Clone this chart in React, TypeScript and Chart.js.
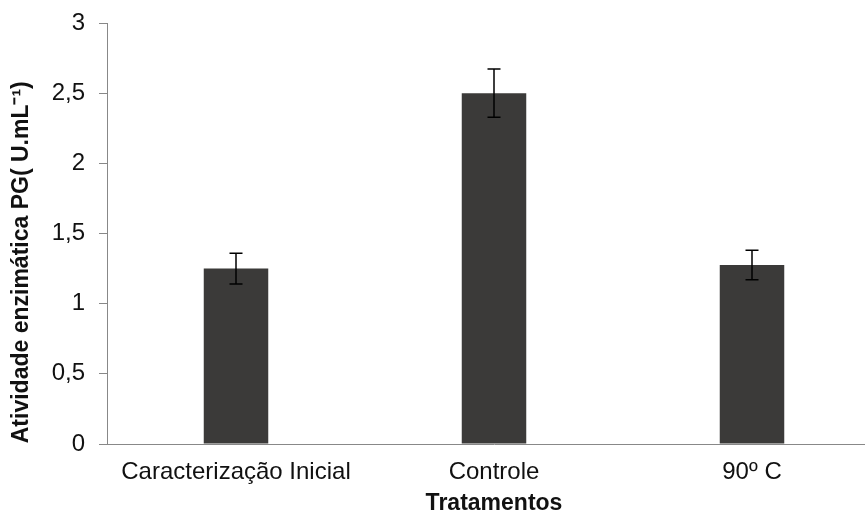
import React, { useEffect, useRef } from "react";
import { Chart, registerables } from "chart.js";

Chart.register(...registerables);

const categories = ["Caracterização Inicial", "Controle", "90º C"];
const values = [1.25, 2.5, 1.275];
const errors = [0.11, 0.172, 0.105];
const yTicks = [0, 0.5, 1, 1.5, 2, 2.5, 3];

const errorBarPlugin = {
  id: "errorBars",
  afterDatasetsDraw(chart: any) {
    const ctx = chart.ctx;
    const meta = chart.getDatasetMeta(0);
    const y = chart.scales.y;
    ctx.save();
    ctx.strokeStyle = "#000";
    ctx.lineWidth = 1.5;
    meta.data.forEach((bar: any, i: number) => {
      const x = bar.x;
      const top = y.getPixelForValue(values[i] + errors[i]);
      const bot = y.getPixelForValue(values[i] - errors[i]);
      ctx.beginPath();
      ctx.moveTo(x, top);
      ctx.lineTo(x, bot);
      ctx.moveTo(x - 6.5, top);
      ctx.lineTo(x + 6.5, top);
      ctx.moveTo(x - 6.5, bot);
      ctx.lineTo(x + 6.5, bot);
      ctx.stroke();
    });
    ctx.restore();
  },
};

export default function App() {
  const ref = useRef<HTMLCanvasElement>(null);
  useEffect(() => {
    if (!ref.current) return;
    const chart = new Chart(ref.current, {
      type: "bar",
      data: {
        labels: categories,
        datasets: [
          {
            data: values,
            backgroundColor: "#3b3a39",
            borderWidth: 0,
            categoryPercentage: 1,
            barPercentage: 0.25,
          },
        ],
      },
      options: {
        animation: false,
        responsive: false,
        maintainAspectRatio: false,
        layout: { padding: { top: 23, right: 0, bottom: 0, left: 0 } },
        plugins: { legend: { display: false }, tooltip: { enabled: false } },
        scales: {
          x: {
            grid: { display: false },
            border: { display: true, color: "#888", width: 1 },
            ticks: {
              color: "#111",
              font: { family: "Liberation Sans", size: 24 },
              padding: 6,
              maxRotation: 0,
              autoSkip: false,
            },
            title: {
              display: true,
              text: "Tratamentos",
              color: "#111",
              font: { family: "Liberation Sans", size: 23, weight: "bold" },
              padding: { top: -2, bottom: -2 },
            },
            afterFit(scale: any) {
              scale.height = 71;
              scale.paddingLeft = 0;
              scale.paddingRight = 0;
            },
          },
          y: {
            min: 0,
            max: 3,
            afterBuildTicks(scale: any) {
              scale.ticks = yTicks.map((v) => ({ value: v }));
            },
            grid: {
              drawOnChartArea: false,
              drawTicks: true,
              tickLength: 8,
              color: "#888",
            },
            border: { display: true, color: "#888", width: 1 },
            ticks: {
              color: "#111",
              font: { family: "Liberation Sans", size: 24 },
              padding: 14,
              callback: (v: any) => String(v).replace(".", ","),
            },
            title: {
              display: true,
              text: "Atividade enzimática PG( U.mL⁻¹)         ",
              color: "#111",
              font: { family: "Liberation Sans", size: 23, weight: "bold" },
              padding: { top: 8, bottom: 0 },
            },
            afterFit(scale: any) {
              scale.width = 107;
              scale.paddingTop = 0;
              scale.paddingBottom = 0;
            },
          },
        },
      },
      plugins: [errorBarPlugin],
    } as any);
    return () => chart.destroy();
  }, []);
  return (
    <div style={{ position: "fixed", left: 0, top: 0, width: 865, height: 515, background: "#fff", overflow: "hidden" }}>
      <canvas ref={ref} width={881} height={515} style={{ width: 881, height: 515, display: "block" }} />
    </div>
  );
}
